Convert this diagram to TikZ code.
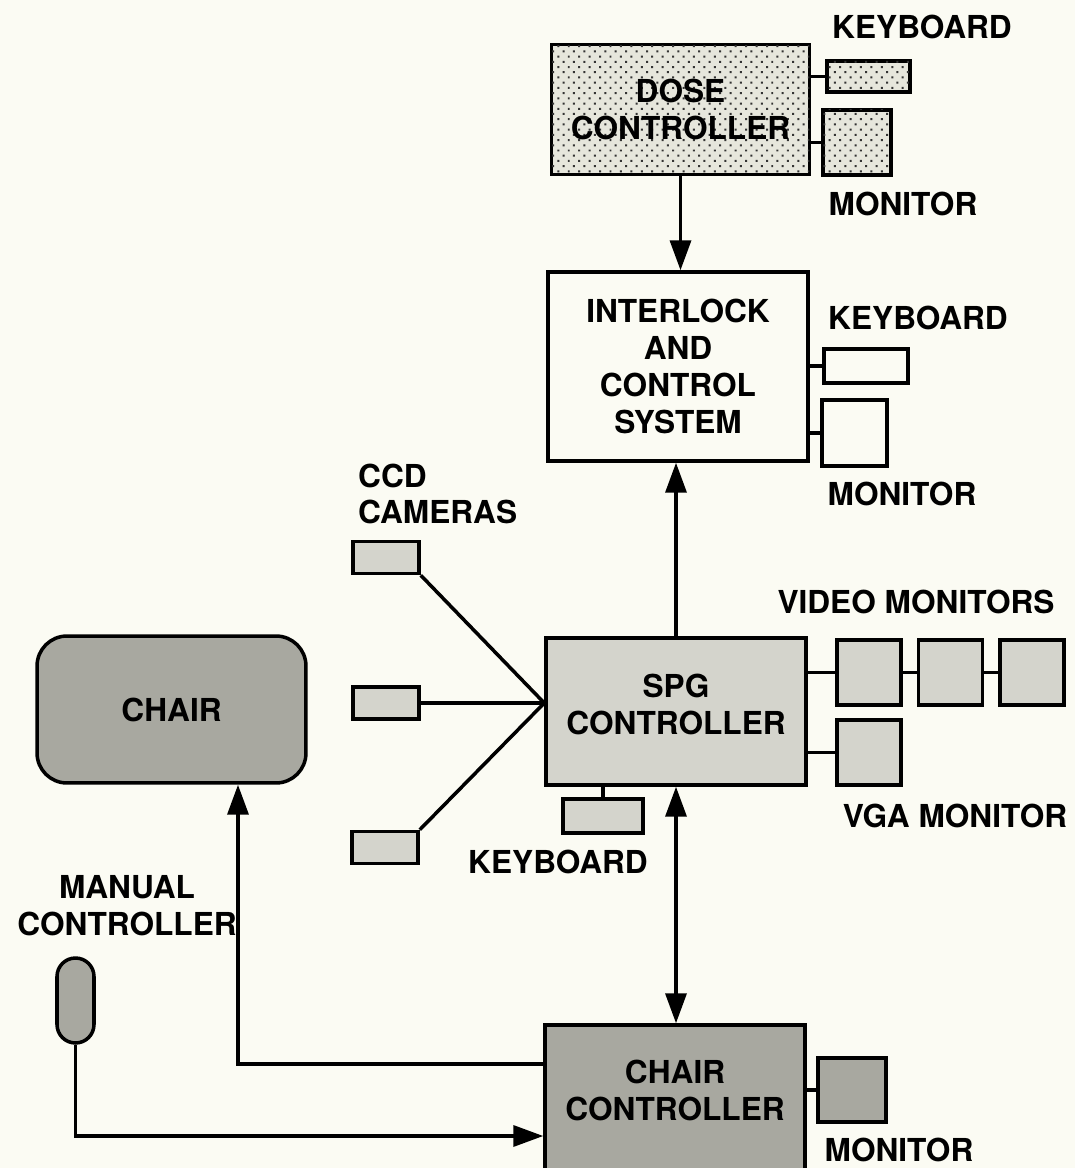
\documentclass[tikz,border=0pt]{standalone}
\usepackage{fontspec}
\setmainfont{TeX Gyre Heros}
\usepackage{xcolor}
\usepackage{tikz}
\usetikzlibrary{arrows.meta,patterns.meta,positioning}

\definecolor{paper}{RGB}{251,251,243}
\definecolor{lightht}{RGB}{212,212,204}
\definecolor{darkht}{RGB}{168,168,160}
\definecolor{dosebg}{RGB}{230,230,220}

\begin{document}
\begin{tikzpicture}[x=0.02cm,y=-0.02cm,
    every node/.style={font=\fontsize{18}{21}\selectfont\bfseries},
    box/.style={draw,line width=2pt,inner sep=0pt,align=center},
    lightbox/.style={box,fill=lightht},
    darkbox/.style={box,fill=darkht},
    dotbox/.style={box,fill=dosebg,
      postaction={pattern={Dots[distance=4.2pt,angle=45,radius=0.8pt]},pattern color=black!80}},
    wire/.style={line width=2pt},
    arr/.style={wire,-{Triangle[length=0.6cm,width=0.42cm]}},
    darr/.style={wire,{Triangle[length=0.6cm,width=0.42cm]}-{Triangle[length=0.6cm,width=0.42cm]}}]
  \fill[paper] (0,0) rectangle (1075,1168);
  \useasboundingbox (0,0) rectangle (1075,1168);

  % dose controller
  \node[dotbox,minimum width=5.16cm,minimum height=2.6cm] (dosectl) at (680.5,109.5) {DOSE\\CONTROLLER};
  \node[dotbox,minimum width=1.66cm,minimum height=0.62cm] (dosekbd) at (868.5,76.5) {};
  \node[dotbox,minimum width=1.36cm,minimum height=1.3cm] (dosemon) at (857,142.5) {};
  \node (dosekbdlbl) at (922,27) {KEYBOARD};
  \node (dosemonlbl) at (903,204) {MONITOR};
  \draw[wire] (dosekbd.west -| dosectl.east) -- (dosekbd.west);
  \draw[wire] (dosemon.west -| dosectl.east) -- (dosemon.west);

  % interlock and control system
  \node[box,fill=paper,minimum width=5.2cm,minimum height=3.78cm] (ilock) at (678,366.5) {INTERLOCK\\AND\\CONTROL\\SYSTEM};
  \node[box,fill=paper,minimum width=1.68cm,minimum height=0.68cm] (ilkbd) at (866,366) {};
  \node[box,fill=paper,minimum width=1.3cm,minimum height=1.32cm] (ilmon) at (854.5,433) {};
  \node (ilkbdlbl) at (918,318) {KEYBOARD};
  \node (ilmonlbl) at (902,494) {MONITOR};
  \draw[wire] (ilkbd.west -| ilock.east) -- (ilkbd.west);
  \draw[wire] (ilmon.west -| ilock.east) -- (ilmon.west);
  \draw[arr] (dosectl.south) -- (dosectl.south |- ilock.north);

  % spg controller
  \node[lightbox,minimum width=5.2cm,minimum height=2.94cm,text depth=0.3cm] (spg) at (676,711.5) {SPG\\CONTROLLER};
  \node[lightbox,minimum width=1.6cm,minimum height=0.68cm] (spgkbd) at (603,816) {};
  \node (spgkbdlbl) at (558,862) {KEYBOARD};
  \draw[wire] (spgkbd.north) -- (spgkbd.north |- spg.south);
  \draw[arr] (spg.north) -- (spg.north |- ilock.south);

  % video and vga monitors
  \foreach \i/\x in {1/869,2/950.5,3/1032}
    \node[lightbox,minimum width=1.28cm,minimum height=1.3cm] (vid\i) at (\x,672.5) {};
  \node[lightbox,minimum width=1.28cm,minimum height=1.3cm] (vga) at (869,752.5) {};
  \node (vidlbl) at (916,602) {VIDEO MONITORS};
  \node (vgalbl) at (955,816) {VGA MONITOR};
  \draw[wire] (vid1.west -| spg.east) -- (vid1.west);
  \draw[wire] (vid1) -- (vid2);
  \draw[wire] (vid2) -- (vid3);
  \draw[wire] (vga.west -| spg.east) -- (vga.west);

  % ccd cameras
  \node[lightbox,minimum width=1.32cm,minimum height=0.64cm] (cam1) at (386,557.5) {};
  \node[lightbox,minimum width=1.32cm,minimum height=0.64cm] (cam2) at (386,703) {};
  \node[lightbox,minimum width=1.32cm,minimum height=0.64cm] (cam3) at (385,847.5) {};
  \node[anchor=west,align=left] (camlbl) at (352,494) {CCD\\CAMERAS};
  \coordinate (hub) at (cam2.east -| spg.west);
  \draw[wire] (cam1.south east) -- (hub);
  \draw[wire] (cam2.east) -- (hub);
  \draw[wire] (cam3.north east) -- (hub);

  % chair
  \node[darkbox,rounded corners=0.6cm,minimum width=5.38cm,minimum height=2.94cm] (chair) at (171.5,709.5) {CHAIR};

  % manual controller
  \node[darkbox,rounded corners=0.37cm,minimum width=0.74cm,minimum height=1.7cm] (manual) at (75.5,1000.5) {};
  \node[align=center] (manuallbl) at (127,906) {MANUAL\\CONTROLLER};

  % chair controller
  \node[darkbox,minimum width=5.2cm,minimum height=3cm,text depth=0.4cm] (chairctl) at (675,1100) {CHAIR\\CONTROLLER};
  \node[darkbox,minimum width=1.36cm,minimum height=1.28cm] (ccmon) at (852,1090) {};
  \node (ccmonlbl) at (899,1150) {MONITOR};
  \draw[wire] (ccmon.west -| chairctl.east) -- (ccmon.west);
  \draw[darr] (spg.south) -- (spg.south |- chairctl.north);
  \draw[arr] ([yshift=0.72cm]chairctl.west) -| ([xshift=1.33cm]chair.south);
  \draw[arr] (manual.south) |- ([yshift=-0.72cm]chairctl.west);
\end{tikzpicture}
\end{document}
